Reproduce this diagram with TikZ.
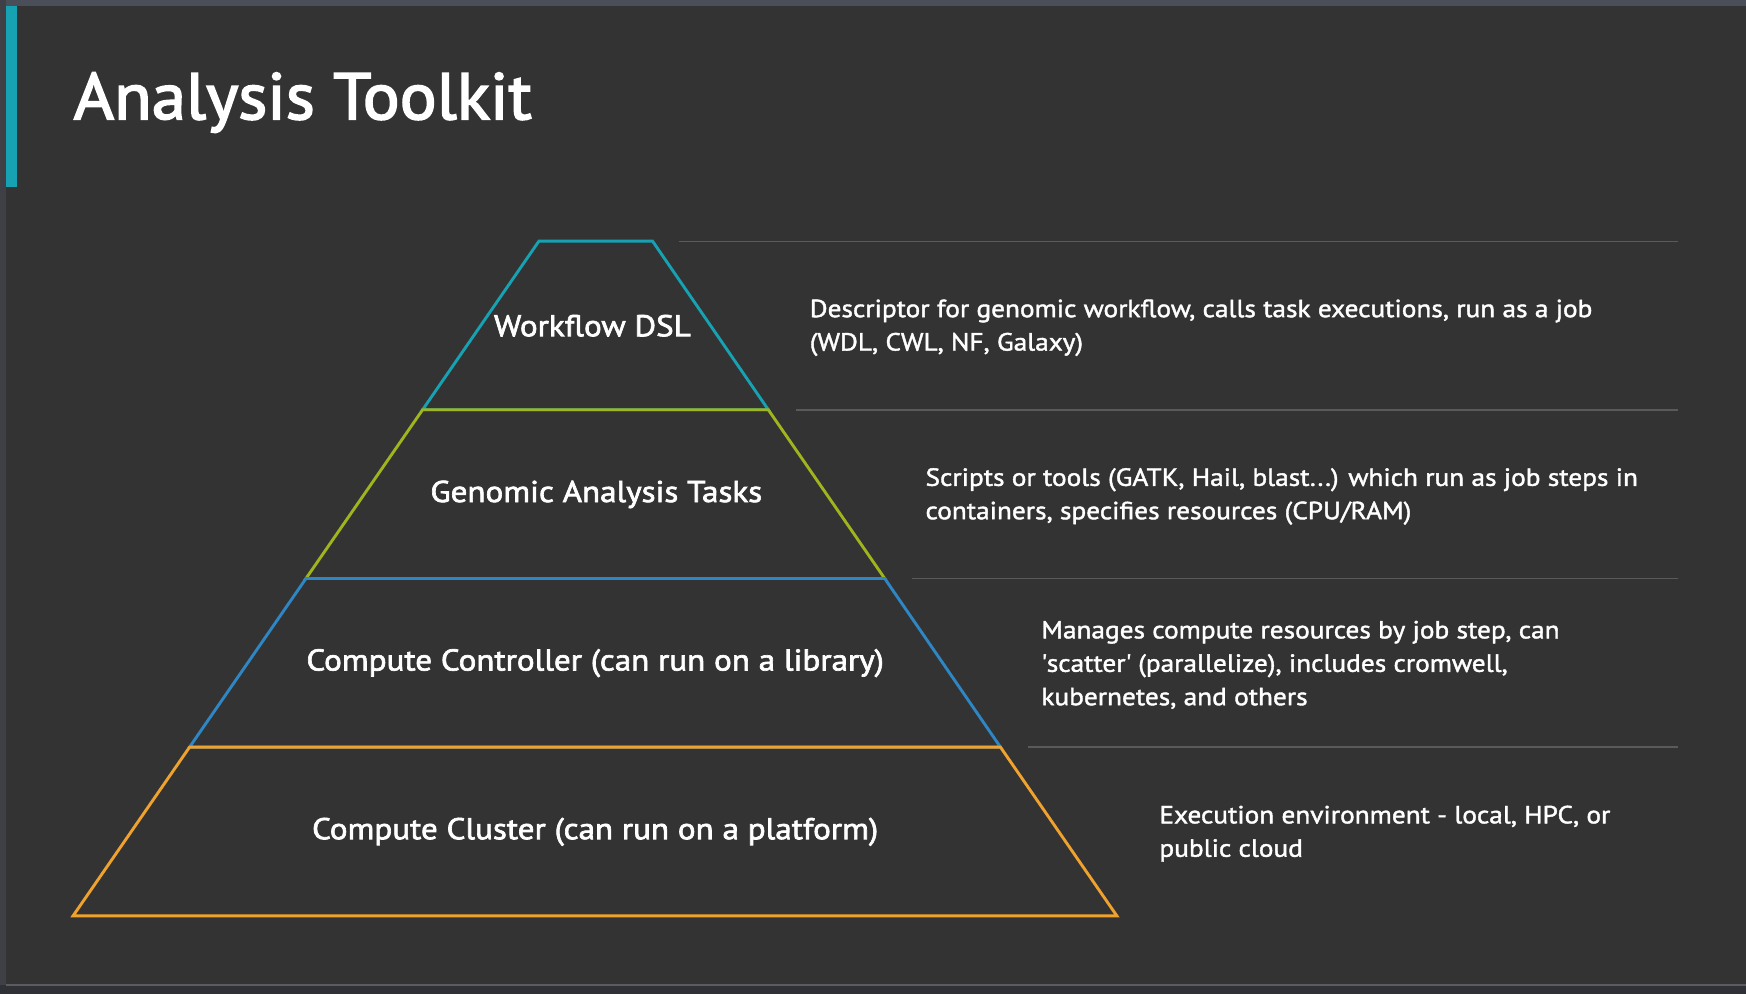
\documentclass[tikz,border=0pt]{standalone}
\usepackage{fontspec}
\setmainfont{PT Sans}
\newfontfamily\labfont[FakeBold=2.2, FakeStretch=1.1]{PT Sans}
\newfontfamily\titfont[FakeBold=2.6, FakeStretch=1.05]{PT Sans}
\newfontfamily\descfont[FakeBold=1.6, FakeStretch=1.1]{PT Sans}
\definecolor{bgc}{HTML}{333333}
\definecolor{topc}{HTML}{4A4E58}
\definecolor{leftc}{HTML}{3E4046}
\definecolor{botc}{HTML}{2F3136}
\definecolor{botl}{HTML}{5A5C60}
\definecolor{tealc}{HTML}{17A2B4}
\definecolor{olivec}{HTML}{A0B41E}
\definecolor{bluec}{HTML}{2F86C4}
\definecolor{orangec}{HTML}{F0A22E}
\definecolor{sepc}{HTML}{5A5A5A}
\tikzset{
  layer/.style={line width=2.6pt, line join=miter},
  sepline/.style={draw=sepc, line width=1.4pt},
  lab/.style={text=white, font=\labfont\fontsize{27}{32}\selectfont, inner sep=0pt},
  desc/.style={text=white, font=\descfont\fontsize{22.3}{30}\selectfont, align=left, inner sep=0pt, anchor=base west},
}
\begin{document}
\begin{tikzpicture}[x=1pt,y=-1pt]
\fill[bgc] (0,0) rectangle (1568,892.6);
\useasboundingbox (0,0) rectangle (1568,892.6);
\fill[topc] (0,0) rectangle (1568,5.4);
\fill[leftc] (0,0) rectangle (5.4,892.6);
\fill[botc] (0,884.6) rectangle (1568,892.6);
\draw[botl, line width=1.2pt] (5.4,884.6) -- (1568,884.6);
\fill[tealc] (5.4,5.4) rectangle (15.1,167.5);

\node[text=white, font=\titfont\fontsize{59}{68}\selectfont, anchor=base west, inner sep=0pt] (title) at (66,107) {Analysis Toolkit};

% pyramid corners
\coordinate (l0) at (484,216.5);  \coordinate (r0) at (586,216.5);
\coordinate (l1) at (379.5,368); \coordinate (r1) at (690,368);
\coordinate (l2) at (274.8,519.5); \coordinate (r2) at (794.5,519.5);
\coordinate (l3) at (170.2,671); \coordinate (r3) at (898.5,671);
\coordinate (l4) at (65.6,822.5); \coordinate (r4) at (1003,822.5);

\draw[layer, tealc] (l0) -- (r0) -- (r1) -- (l1) -- cycle;
\draw[layer, olivec] (l1) -- (r1) -- (r2) -- (l2) -- cycle;
\draw[layer, bluec] (l2) -- (r2) -- (r3) -- (l3) -- cycle;
\draw[layer, orangec] (l3) -- (r3) -- (r4) -- (l4) -- cycle;

% separators
\coordinate (s0a) at (610,217); \coordinate (s0b) at (1507,217);
\coordinate (s1a) at (715,368); \coordinate (s1b) at (1507,368);
\coordinate (s2a) at (819,519.5); \coordinate (s2b) at (1507,519.5);
\coordinate (s3a) at (923,671); \coordinate (s3b) at (1507,671);
\draw[sepline] (s0a) -- (s0b);
\draw[sepline] (s1a) -- (s1b);
\draw[sepline] (s2a) -- (s2b);
\draw[sepline] (s3a) -- (s3b);

% labels
\node[lab] (lab1) at (532,292.5) {Workflow DSL};
\node[lab] (lab2) at (535.5,444) {Genomic Analysis Tasks};
\node[lab] (lab3) at (534.5,595.5) {Compute Controller (can run on a library)};
\node[lab] (lab4) at (534.5,747) {Compute Cluster (can run on a platform)};

% descriptions (anchor = baseline of last line)
\node[desc] (d1) at (727,314.8) {Descriptor for genomic workflow, calls task executions, run as a job\\(WDL, CWL, NF, Galaxy)};
\node[desc] (d2) at (831,466.3) {Scripts or tools (GATK, Hail, blast...) which run as job steps in\\containers, specifies resources (CPU/RAM)};
\node[desc] (d3) at (935,633.3) {Manages compute resources by job step, can\\\textquotesingle scatter\textquotesingle{} (parallelize), includes cromwell,\\kubernetes, and others};
\node[desc] (d4) at (1041,769.4) {Execution environment - local, HPC, or\\public cloud};
\end{tikzpicture}
\end{document}
